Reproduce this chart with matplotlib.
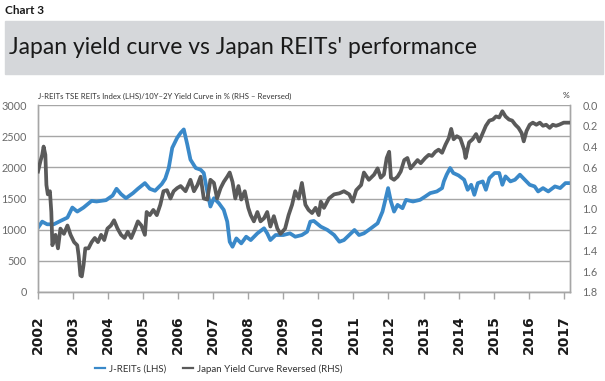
import matplotlib
matplotlib.use("Agg")
import matplotlib.pyplot as plt

# J-REITs TSE REITs Index (LHS)
reit_years = [2002.00, 2002.12, 2002.26, 2002.45, 2002.64, 2002.84, 2002.98, 2003.12, 2003.30,
              2003.53, 2003.67, 2003.94, 2004.13, 2004.24, 2004.37, 2004.51, 2004.71, 2004.85,
              2005.05, 2005.19, 2005.34, 2005.53, 2005.63, 2005.73, 2005.83, 2005.97, 2006.07,
              2006.16, 2006.26, 2006.35, 2006.50, 2006.64, 2006.73, 2006.83, 2006.92, 2007.02,
              2007.16, 2007.30, 2007.40, 2007.47, 2007.55, 2007.66, 2007.80, 2007.94, 2008.07,
              2008.26, 2008.45, 2008.54, 2008.63, 2008.78, 2009.00, 2009.19, 2009.34, 2009.53,
              2009.68, 2009.77, 2009.87, 2010.07, 2010.26, 2010.45, 2010.60, 2010.73, 2010.88,
              2011.03, 2011.16, 2011.30, 2011.50, 2011.69, 2011.83, 2011.90, 2011.99, 2012.07,
              2012.16, 2012.26, 2012.40, 2012.50, 2012.70, 2012.90, 2013.05, 2013.19, 2013.38,
              2013.53, 2013.58, 2013.66, 2013.76, 2013.85, 2014.00, 2014.16, 2014.26, 2014.36,
              2014.45, 2014.55, 2014.69, 2014.78, 2014.88, 2015.03, 2015.16, 2015.25, 2015.34,
              2015.48, 2015.61, 2015.75, 2015.89, 2016.03, 2016.17, 2016.27, 2016.41, 2016.56,
              2016.75, 2016.90, 2017.05, 2017.15]
reit_index = [1032, 1129, 1086, 1086, 1140, 1194, 1355, 1290, 1355,
              1462, 1452, 1473, 1548, 1656, 1570, 1505, 1586, 1656,
              1747, 1656, 1624, 1731, 1817, 1989, 2312, 2473, 2554,
              2608, 2366, 2124, 1989, 1962, 1909, 1613, 1371, 1505,
              1425, 1317, 1129, 806, 726, 860, 780, 887, 833,
              941, 1022, 941, 833, 914, 914, 941, 887, 914,
              968, 1129, 1140, 1048, 995, 914, 806, 833, 914,
              995, 914, 941, 1022, 1102, 1290, 1452, 1667, 1452,
              1290, 1398, 1344, 1478, 1452, 1478, 1532, 1586, 1613,
              1667, 1774, 1882, 1989, 1909, 1870, 1801, 1640, 1720,
              1559, 1747, 1774, 1640, 1828, 1909, 1909, 1720, 1855,
              1774, 1801, 1882, 1801, 1720, 1694, 1613, 1667, 1613,
              1694, 1667, 1747, 1747]

# 10Y-2Y yield curve in % (RHS, reversed)
curve_years = [2002.00, 2002.07, 2002.12, 2002.16, 2002.21, 2002.24, 2002.28, 2002.34, 2002.38,
               2002.41, 2002.50, 2002.57, 2002.64, 2002.74, 2002.84, 2002.93, 2003.03, 2003.12,
               2003.16, 2003.21, 2003.25, 2003.30, 2003.35, 2003.44, 2003.53, 2003.62, 2003.71,
               2003.80, 2003.89, 2003.98, 2004.08, 2004.17, 2004.27, 2004.37, 2004.47, 2004.56,
               2004.66, 2004.76, 2004.85, 2004.95, 2005.05, 2005.10, 2005.19, 2005.29, 2005.39,
               2005.49, 2005.58, 2005.68, 2005.78, 2005.87, 2005.97, 2006.07, 2006.21, 2006.35,
               2006.45, 2006.55, 2006.64, 2006.73, 2006.83, 2006.92, 2007.02, 2007.11, 2007.21,
               2007.30, 2007.40, 2007.47, 2007.55, 2007.63, 2007.72, 2007.80, 2007.90, 2008.00,
               2008.07, 2008.16, 2008.26, 2008.35, 2008.45, 2008.54, 2008.63, 2008.73, 2008.83,
               2008.92, 2009.05, 2009.15, 2009.25, 2009.34, 2009.44, 2009.53, 2009.63, 2009.72,
               2009.82, 2009.92, 2010.01, 2010.07, 2010.16, 2010.30, 2010.45, 2010.60, 2010.73,
               2010.88, 2010.98, 2011.08, 2011.22, 2011.30, 2011.44, 2011.59, 2011.69, 2011.78,
               2011.87, 2011.95, 2012.02, 2012.07, 2012.16, 2012.26, 2012.35, 2012.45, 2012.54,
               2012.63, 2012.73, 2012.83, 2012.92, 2013.05, 2013.15, 2013.24, 2013.34, 2013.43,
               2013.53, 2013.63, 2013.72, 2013.79, 2013.86, 2013.95, 2014.05, 2014.16, 2014.20,
               2014.30, 2014.40, 2014.50, 2014.59, 2014.69, 2014.78, 2014.88, 2014.98, 2015.07,
               2015.16, 2015.25, 2015.34, 2015.44, 2015.53, 2015.62, 2015.71, 2015.80, 2015.86,
               2015.94, 2016.03, 2016.12, 2016.22, 2016.32, 2016.41, 2016.50, 2016.60, 2016.69,
               2016.78, 2016.87, 2017.00, 2017.15]
curve_pct = [0.64, 0.54, 0.48, 0.40, 0.48, 0.77, 0.86, 0.83, 1.03,
             1.35, 1.25, 1.38, 1.19, 1.24, 1.16, 1.25, 1.32, 1.35,
             1.45, 1.64, 1.65, 1.54, 1.38, 1.38, 1.32, 1.28, 1.32,
             1.25, 1.30, 1.19, 1.16, 1.11, 1.19, 1.25, 1.28, 1.22,
             1.28, 1.20, 1.12, 1.16, 1.25, 1.03, 1.06, 1.01, 1.06,
             0.96, 0.83, 0.82, 0.90, 0.83, 0.80, 0.78, 0.83, 0.72,
             0.83, 0.77, 0.69, 0.90, 0.91, 0.72, 0.75, 0.90, 0.80,
             0.74, 0.69, 0.65, 0.74, 0.90, 0.78, 0.91, 0.83, 0.99,
             1.06, 1.12, 1.03, 1.12, 1.09, 1.03, 1.17, 1.07, 1.19,
             1.24, 1.19, 1.06, 0.96, 0.83, 0.90, 0.75, 0.96, 1.01,
             1.04, 0.99, 1.06, 0.93, 0.99, 0.90, 0.86, 0.85, 0.83,
             0.86, 0.93, 0.82, 0.77, 0.65, 0.72, 0.67, 0.61, 0.70,
             0.67, 0.51, 0.45, 0.70, 0.72, 0.69, 0.64, 0.53, 0.51,
             0.61, 0.57, 0.53, 0.56, 0.51, 0.48, 0.49, 0.45, 0.43,
             0.46, 0.38, 0.32, 0.23, 0.33, 0.30, 0.32, 0.43, 0.51,
             0.36, 0.33, 0.28, 0.35, 0.27, 0.20, 0.15, 0.14, 0.11,
             0.12, 0.06, 0.11, 0.14, 0.15, 0.19, 0.22, 0.27, 0.35,
             0.25, 0.19, 0.17, 0.19, 0.17, 0.20, 0.19, 0.22, 0.19,
             0.20, 0.19, 0.17, 0.17]

year_ticks = list(range(2002, 2018))
left_ticks = [0, 500, 1000, 1500, 2000, 2500, 3000]
right_ticks = [0.0, 0.2, 0.4, 0.6, 0.8, 1.0, 1.2, 1.4, 1.6, 1.8]

BLUE = "#3a89c9"
DARK = "#5a5a5a"
GRID = "#a6a6a6"
NARROW = ["Lato", "DejaVu Sans"]


def draw_chart():
    fig = plt.figure(figsize=(6.05, 3.81), dpi=100)
    W, H = 605, 381

    # header band and titles
    fig.text(5 / W, 1 - 11 / H, "Chart 3", fontsize=8.5, fontweight="bold",
             family=NARROW, va="center", ha="left", color="#1a1a1a")
    fig.patches.append(plt.Rectangle((5 / W, 1 - 74 / H), 1 - 7 / W, 53 / H,
                                     transform=fig.transFigure, color="#d5d7da", zorder=0))
    fig.text(9 / W, 1 - 48 / H, "Japan yield curve vs Japan REITs' performance", fontsize=16.5,
             family=NARROW, va="center", ha="left", color="#1a1a1a")
    fig.text(38 / W, 1 - 96 / H,
             "J-REITs TSE REITs Index (LHS)/10Y\u20132Y Yield Curve in % (RHS \u2013 Reversed)",
             fontsize=5.6, family=NARROW, va="center", ha="left", color="#333333")
    fig.text(563 / W, 1 - 95 / H, "%", fontsize=6, family=NARROW, va="center",
             ha="left", color="#333333")

    ax = fig.add_axes([38 / W, 1 - 292 / H, (570 - 38) / W, 187 / H])
    ax2 = ax.twinx()

    ax.plot(reit_years, reit_index, color=BLUE, lw=2.7, solid_joinstyle="round",
            label="J-REITs (LHS)", zorder=3)
    ax2.plot(curve_years, curve_pct, color=DARK, lw=2.7, solid_joinstyle="round",
             label="Japan Yield Curve Reversed (RHS)", zorder=3)

    ax.set_xlim(2002, 2017.18)
    ax.set_ylim(0, 3000)
    ax2.set_ylim(1.8, 0)

    ax.set_yticks(left_ticks)
    ax.set_yticklabels([str(v) for v in left_ticks], family=NARROW, fontsize=7.8,
                       color="#6a6a6a")
    ax2.set_yticks(right_ticks)
    ax2.set_yticklabels(["%.1f" % v for v in right_ticks], family=NARROW, fontsize=7.8,
                        color="#6a6a6a")
    ax.set_xticks(year_ticks)
    ax.set_xticklabels([str(y) for y in year_ticks], rotation=90, fontsize=10,
                       fontweight="bold", color="#1a1a1a")

    ax.tick_params(axis="y", length=0, pad=8)
    ax2.tick_params(axis="y", length=0, pad=9)
    ax.tick_params(axis="x", length=5, width=1, color=GRID, pad=12)

    ax.grid(axis="y", color=GRID, lw=1)
    ax.set_axisbelow(True)
    for a in (ax, ax2):
        for s in a.spines.values():
            s.set_color(GRID)
            s.set_linewidth(1)
        a.spines["top"].set_visible(False)

    # legend below the chart
    h1, l1 = ax.get_legend_handles_labels()
    h2, l2 = ax2.get_legend_handles_labels()
    leg = fig.legend(h1 + h2, l1 + l2, loc="center left",
                     bbox_to_anchor=(95 / W, 1 - 369 / H), bbox_transform=fig.transFigure,
                     ncol=2, frameon=False, handlelength=1.0, handletextpad=0.4,
                     columnspacing=1.8, borderpad=0, borderaxespad=0,
                     prop={"family": NARROW, "size": 7})
    for line in leg.get_lines():
        line.set_linewidth(1.6)
    for t in leg.get_texts():
        t.set_color("#333333")

    fig.savefig("out.png", dpi=100)


if __name__ == "__main__":
    draw_chart()
